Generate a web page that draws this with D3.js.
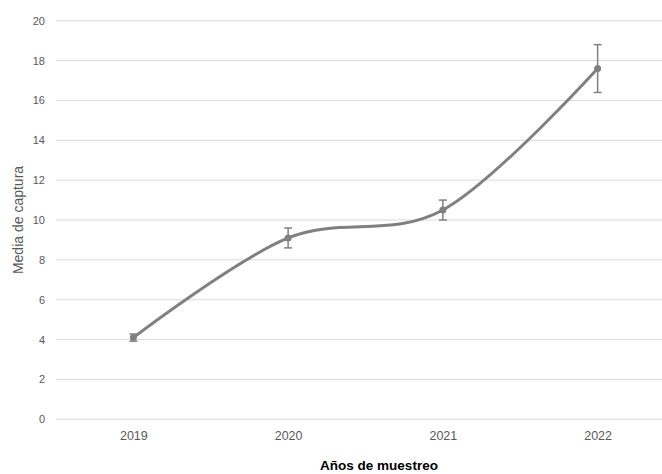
<!DOCTYPE html>
<html>
<head>
<meta charset="utf-8">
<script src="https://cdn.jsdelivr.net/npm/d3@7"></script>
<style>
  html, body { margin: 0; padding: 0; background: #fff; }
  svg { display: block; }
</style>
</head>
<body>
<svg id="chart" width="662" height="474"></svg>
<script>
const categories = ["2019", "2020", "2021", "2022"];
const means = [4.1, 9.1, 10.5, 17.6];
const errors = [0.18, 0.5, 0.5, 1.2];
const yTicks = [0, 2, 4, 6, 8, 10, 12, 14, 16, 18, 20];
const xTitle = "Años de muestreo";
const yTitle = "Media de captura";

(function () {
const svg = d3.select("#chart");
const plotLeft = 56, plotRight = 675, plotTop = 20.7, plotBottom = 419.3;

const x = d3.scalePoint().domain(categories).range([plotLeft, plotRight]).padding(0.5);
const y = d3.scaleLinear().domain([0, 20]).range([plotBottom, plotTop]);

const font = "'Liberation Sans', Arial, sans-serif";

// gridlines
svg.append("g").selectAll("line").data(yTicks).join("line")
  .attr("x1", plotLeft).attr("x2", 662)
  .attr("y1", d => y(d)).attr("y2", d => y(d))
  .attr("stroke", "#d9d9d9").attr("stroke-width", 1);

// y tick labels
const yAxis = svg.append("g").attr("transform", `translate(${plotLeft},0)`)
  .call(d3.axisLeft(y).tickValues(yTicks).tickSize(0).tickPadding(11));
yAxis.select(".domain").remove();
yAxis.selectAll("text").attr("fill", "#595959").style("font-family", font).style("font-size", "11px");

// x tick labels
const xAxis = svg.append("g").attr("transform", `translate(0,${plotBottom})`)
  .call(d3.axisBottom(x).tickSize(0).tickPadding(12));
xAxis.select(".domain").remove();
xAxis.selectAll("text").attr("fill", "#595959").style("font-family", font).style("font-size", "12.5px");

const data = categories.map((c, i) => ({ c, m: means[i], e: errors[i] }));

// smoothed line
const line = d3.line().x(d => x(d.c)).y(d => y(d.m)).curve(d3.curveCatmullRom.alpha(0));
svg.append("path").datum(data).attr("d", line)
  .attr("fill", "none").attr("stroke", "#808080").attr("stroke-width", 3)
  .attr("stroke-linecap", "round");

// error bars
const eb = svg.append("g").attr("stroke", "#808080").attr("stroke-width", 1.5);
eb.selectAll("line.v").data(data).join("line").attr("class", "v")
  .attr("x1", d => x(d.c)).attr("x2", d => x(d.c))
  .attr("y1", d => y(d.m - d.e)).attr("y2", d => y(d.m + d.e));
eb.selectAll("line.t").data(data).join("line").attr("class", "t")
  .attr("x1", d => x(d.c) - 4).attr("x2", d => x(d.c) + 4)
  .attr("y1", d => y(d.m + d.e)).attr("y2", d => y(d.m + d.e));
eb.selectAll("line.b").data(data).join("line").attr("class", "b")
  .attr("x1", d => x(d.c) - 4).attr("x2", d => x(d.c) + 4)
  .attr("y1", d => y(d.m - d.e)).attr("y2", d => y(d.m - d.e));

// markers
svg.append("g").selectAll("circle").data(data).join("circle")
  .attr("cx", d => x(d.c)).attr("cy", d => y(d.m)).attr("r", 3.5)
  .attr("fill", "#808080");

// axis titles
svg.append("text").attr("x", 379).attr("y", 470).attr("text-anchor", "middle")
  .style("font-family", font).style("font-size", "13.5px").style("font-weight", "bold")
  .attr("fill", "#000").text(xTitle);

svg.append("text").attr("transform", "translate(23,220) rotate(-90)").attr("text-anchor", "middle")
  .style("font-family", font).style("font-size", "14px")
  .attr("fill", "#595959").text(yTitle);
})();
</script>
</body>
</html>
